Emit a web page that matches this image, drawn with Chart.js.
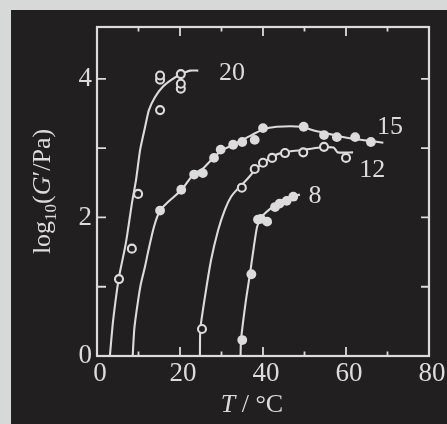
<!DOCTYPE html>
<html>
<head>
<meta charset="utf-8">
<script src="https://cdn.jsdelivr.net/npm/chart.js@4/dist/chart.umd.min.js"></script>
<style>
html,body{margin:0;padding:0;background:#d7d8d8;width:447px;height:424px;overflow:hidden;}
#panel{position:absolute;left:11px;top:10px;width:436px;height:414px;background:#211f20;}
#c{position:absolute;left:0;top:0;}
</style>
</head>
<body>
<div id="panel"></div>
<canvas id="c" width="447" height="424"></canvas>
<script>
// ---- tick labels / tick marks ----
const xTickLabels = [0, 20, 40, 60, 80];
const yTickLabels = [0, 2, 4];
const xMajorMarks = [20, 40, 60];
const xMinorMarks = [10, 30, 50, 70];
const yMarks = [1, 2, 3, 4];

// ---- measured points (T in °C, log10 G'/Pa) ----
const open20T = [5.3, 8.4, 9.9, 15.2, 15.2, 15.2, 20.2, 20.2, 20.2];
const open20G = [1.11, 1.55, 2.34, 3.55, 3.99, 4.05, 3.86, 3.93, 4.07];

const fill15T = [15.2, 20.3, 23.4, 25.5, 28.2, 29.8, 32.8, 35.0, 38.0, 40.0, 49.8, 54.7, 57.8, 62.2, 66.0];
const fill15G = [2.10, 2.40, 2.62, 2.64, 2.86, 2.98, 3.05, 3.09, 3.12, 3.29, 3.31, 3.19, 3.16, 3.16, 3.09];

const open12T = [25.3, 34.9, 38.0, 40.0, 42.2, 45.3, 49.7, 54.7, 60.0];
const open12G = [0.39, 2.43, 2.70, 2.79, 2.86, 2.93, 2.94, 3.02, 2.86];

const fill8T = [35.0, 37.2, 38.8, 39.5, 41.0, 42.9, 44.0, 45.7, 47.3];
const fill8G = [0.23, 1.18, 1.97, 1.98, 1.94, 2.15, 2.20, 2.24, 2.30];

// ---- drawn curves ----
const fit20T = [3.1, 3.9, 5.2, 5.8, 6.7, 7.2, 8.4, 9.4, 10.4, 11.6, 12.5, 14.0, 15.9, 18.0, 20.0, 22.4, 24.4];
const fit20G = [0, 0.52, 1.11, 1.29, 1.55, 1.72, 2.20, 2.54, 2.98, 3.31, 3.55, 3.74, 3.89, 3.99, 4.06, 4.12, 4.12];

const fit15T = [8.6, 9.0, 9.9, 10.6, 11.6, 12.3, 13.7, 15.2, 17.6, 20.4, 23.2, 25.6, 28.0, 30.4, 32.8, 36.0, 40.0, 43.3, 49.3, 52.0, 55.0, 58.5, 62.6, 66.5, 69.0];
const fit15G = [0, 0.40, 0.80, 1.05, 1.30, 1.50, 1.86, 2.10, 2.25, 2.40, 2.62, 2.71, 2.86, 2.98, 3.05, 3.15, 3.27, 3.31, 3.31, 3.26, 3.22, 3.17, 3.13, 3.10, 3.08];

const fit12T = [24.8, 24.9, 26.0, 27.5, 29.2, 30.8, 32.3, 34.0, 36.0, 38.5, 41.7, 44.8, 48.9, 53.7, 57.0, 58.0, 61.7];
const fit12G = [0, 0.39, 0.85, 1.39, 1.82, 2.11, 2.30, 2.42, 2.54, 2.71, 2.86, 2.94, 2.97, 3.01, 3.01, 2.94, 2.94];

const fit8T = [34.6, 34.7, 35.9, 36.9, 37.8, 38.6, 39.7, 42.5, 45.7, 48.9];
const fit8G = [0, 0.23, 0.81, 1.20, 1.58, 1.87, 2.01, 2.16, 2.28, 2.33];

// ---- curve labels ----
const curveLabels = ['20', '15', '12', '8'];
const curveLabelT = [32.5, 70.6, 66.3, 52.5];
const curveLabelG = [4.09, 3.31, 2.69, 2.31];

const INK = '#dcdcdc';
const BG = '#211f20';
const SERIF = '"Liberation Serif", "Times New Roman", serif';

const pts = (xs, ys) => xs.map((v, i) => ({x: v, y: ys[i]}));

function curve(xs, ys) {
  return {
    data: pts(xs, ys), showLine: true, pointRadius: 0, borderColor: INK,
    borderWidth: 2.1, tension: 0.2, order: 2, fill: false
  };
}
function openPts(xs, ys) {
  return {
    data: pts(xs, ys), showLine: false, pointRadius: 4.0, pointBorderWidth: 2.1,
    pointBorderColor: INK, pointBackgroundColor: BG, order: 0
  };
}
function fillPts(xs, ys) {
  return {
    data: pts(xs, ys), showLine: false, pointRadius: 4.9, pointBorderWidth: 0,
    pointBorderColor: INK, pointBackgroundColor: INK, order: 1
  };
}

const framePlugin = {
  id: 'frame',
  afterDatasetsDraw(chart) {
    const {ctx, chartArea: a, scales: {x, y}} = chart;
    ctx.save();
    ctx.strokeStyle = INK;
    ctx.lineWidth = 2.2;
    ctx.strokeRect(a.left, a.top, a.right - a.left, a.bottom - a.top);
    ctx.lineWidth = 1.8;
    ctx.beginPath();
    const tick = (px, len) => {
      ctx.moveTo(px, a.bottom); ctx.lineTo(px, a.bottom - len);
      ctx.moveTo(px, a.top); ctx.lineTo(px, a.top + len);
    };
    xMajorMarks.forEach(v => tick(x.getPixelForValue(v), 9));
    xMinorMarks.forEach(v => tick(x.getPixelForValue(v), 4.5));
    yMarks.forEach(v => {
      const py = y.getPixelForValue(v);
      ctx.moveTo(a.left, py); ctx.lineTo(a.left + 9, py);
      ctx.moveTo(a.right, py); ctx.lineTo(a.right - 8, py);
    });
    ctx.stroke();

    // curve labels
    ctx.fillStyle = INK;
    ctx.font = '26px ' + SERIF;
    ctx.textAlign = 'center';
    ctx.textBaseline = 'middle';
    curveLabels.forEach((t, i) => {
      ctx.fillText(t, x.getPixelForValue(curveLabelT[i]), y.getPixelForValue(curveLabelG[i]));
    });

    // x title: T / °C
    ctx.textBaseline = 'alphabetic';
    ctx.textAlign = 'left';
    const xParts = [['italic 26px ' + SERIF, 'T', 0], ['26px ' + SERIF, ' / °C', 0]];
    drawParts(ctx, xParts, 252, a.bottom + 56);

    // y title: log10(G'/Pa)
    ctx.save();
    ctx.translate(a.left - 47, (a.top + a.bottom) / 2);
    ctx.rotate(-Math.PI / 2);
    const yParts = [
      ['26px ' + SERIF, 'log', 0],
      ['17px ' + SERIF, '10', 6],
      ['26px ' + SERIF, '(', 0],
      ['italic 26px ' + SERIF, 'G', 0],
      ['26px ' + SERIF, '\u2032/Pa)', 0]
    ];
    drawParts(ctx, yParts, 0, 0);
    ctx.restore();
    ctx.restore();
  }
};

function drawParts(ctx, parts, cx, baseY) {
  let total = 0;
  parts.forEach(p => { ctx.font = p[0]; total += ctx.measureText(p[1]).width; });
  let xx = cx - total / 2;
  parts.forEach(p => {
    ctx.font = p[0];
    ctx.fillText(p[1], xx, baseY + p[2]);
    xx += ctx.measureText(p[1]).width;
  });
}

new Chart(document.getElementById('c'), {
  type: 'scatter',
  data: {
    datasets: [
      curve(fit20T, fit20G), curve(fit15T, fit15G), curve(fit12T, fit12G), curve(fit8T, fit8G),
      openPts(open20T, open20G), fillPts(fill15T, fill15G), openPts(open12T, open12G), fillPts(fill8T, fill8G)
    ]
  },
  options: {
    responsive: false,
    animation: false,
    layout: {padding: {top: 27, right: 18, bottom: 0, left: 0}},
    plugins: {legend: {display: false}, tooltip: {enabled: false}},
    scales: {
      x: {
        type: 'linear', min: 0, max: 80,
        grid: {display: false}, border: {display: false},
        afterBuildTicks: s => { s.ticks = xTickLabels.map(v => ({value: v})); },
        afterFit: s => { s.height = 68; },
        ticks: {color: INK, font: {family: SERIF, size: 27}, padding: -6, labelOffset: 3, maxRotation: 0}
      },
      y: {
        type: 'linear', min: 0, max: 4.75,
        grid: {display: false}, border: {display: false},
        afterBuildTicks: s => { s.ticks = yTickLabels.map(v => ({value: v})); },
        afterFit: s => { s.width = 97; },
        ticks: {color: INK, font: {family: SERIF, size: 27}, padding: -3}
      }
    }
  },
  plugins: [framePlugin]
});
</script>
</body>
</html>
